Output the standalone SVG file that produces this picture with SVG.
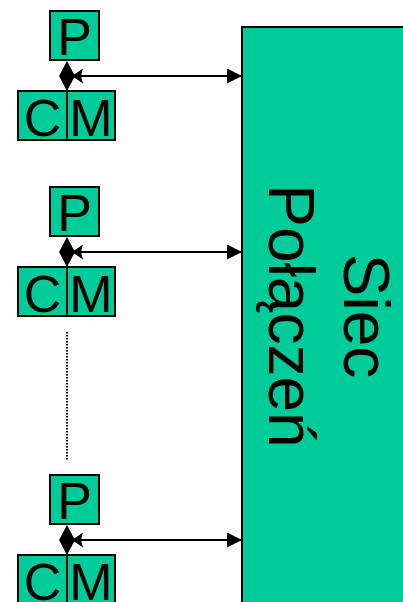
<svg xmlns="http://www.w3.org/2000/svg" xmlns:xlink="http://www.w3.org/1999/xlink" width="403" height="602" viewBox="0 0 403 602">
  <style>
    .box { fill: #00CC99; stroke: #000; stroke-width: 2; }
    .lbl { font-family: "Liberation Sans", Arial, sans-serif; font-size: 52px; fill: #000; text-anchor: middle; }
    .big { font-family: "Liberation Sans", Arial, sans-serif; font-size: 64px; fill: #000; text-anchor: middle; }
    .link { stroke: #000; stroke-width: 2; fill: none; marker-start: url(#headL); marker-end: url(#headR); }
    .dots { stroke: #000; stroke-width: 2; stroke-dasharray: 1.5 1.5; fill: none; }
  </style>
  <defs>
    <marker id="headR" viewBox="0 0 15 15" refX="15" refY="7.5" markerWidth="15" markerHeight="15" markerUnits="userSpaceOnUse" orient="auto">
      <path d="M0,0 L15,7.5 L0,15 z" fill="#000"/>
    </marker>
    <marker id="headL" viewBox="0 0 11 15" refX="0" refY="7.5" markerWidth="11" markerHeight="15" markerUnits="userSpaceOnUse" orient="0">
      <path d="M0,7.5 L11,0 L9,7.5 L11,15 z" fill="#000"/>
    </marker>
    <!-- diamond joining a processor to its cache/memory pair -->
    <path id="diamond" d="M0,-15 L8,0 L0,15 L-8,0 z" fill="#000"/>
  </defs>

  <!-- interconnection network -->
  <g id="siec">
    <rect class="box" x="242" y="27" width="200" height="600"/>
    <text class="big" transform="translate(344,316) rotate(90)">Siec</text>
    <text class="big" transform="translate(269,316) rotate(90)">Połączeń</text>
  </g>

  <!-- node 1 -->
  <g id="p1">
    <rect class="box" x="50" y="11" width="49" height="49"/>
    <text class="lbl" x="74.5" y="55">P</text>
  </g>
  <g id="cm1">
    <rect class="box" x="18" y="91" width="49" height="49"/>
    <rect class="box" x="67" y="91" width="48" height="49"/>
    <text class="lbl" x="42.5" y="136">C</text>
    <text class="lbl" x="91" y="136">M</text>
  </g>

  <!-- node 2 -->
  <g id="p2">
    <rect class="box" x="50" y="187" width="49" height="49"/>
    <text class="lbl" x="74.5" y="231">P</text>
  </g>
  <g id="cm2">
    <rect class="box" x="18" y="267" width="49" height="49"/>
    <rect class="box" x="67" y="267" width="48" height="49"/>
    <text class="lbl" x="42.5" y="312">C</text>
    <text class="lbl" x="91" y="312">M</text>
  </g>

  <!-- node n -->
  <g id="p3">
    <rect class="box" x="50" y="475" width="49" height="49"/>
    <text class="lbl" x="74.5" y="519">P</text>
  </g>
  <g id="cm3">
    <rect class="box" x="18" y="555" width="49" height="49"/>
    <rect class="box" x="67" y="555" width="48" height="49"/>
    <text class="lbl" x="42.5" y="600">C</text>
    <text class="lbl" x="91" y="600">M</text>
  </g>

  <!-- links to the network -->
  <g id="connectors">
    <use xlink:href="#diamond" x="67" y="76"/>
    <line class="link" x1="72" y1="76" x2="242" y2="76"/>
    <use xlink:href="#diamond" x="67" y="252"/>
    <line class="link" x1="72" y1="252" x2="242" y2="252"/>
    <use xlink:href="#diamond" x="67" y="540"/>
    <line class="link" x1="72" y1="540" x2="242" y2="540"/>
    <line class="dots" x1="67" y1="332" x2="67" y2="460"/>
  </g>
</svg>
